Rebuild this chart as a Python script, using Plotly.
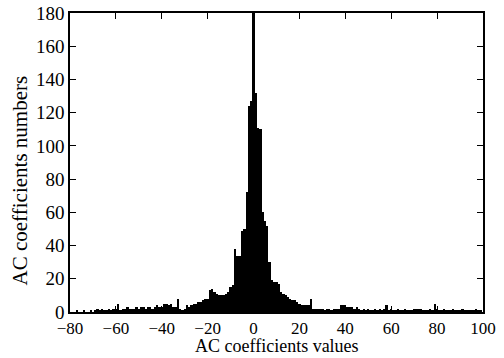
import plotly.graph_objects as go

# Histogram bins (integer AC coefficient values) and their counts
bin_values = list(range(-80, 101))
counts = [
    # -80 .. -69
    0, 0, 0, 1, 0, 0, 1, 0, 0, 1, 0, 1,
    # -68 .. -57
    2, 1, 2, 1, 1, 2, 1, 2, 2, 5, 1, 2,
    # -56 .. -45
    2, 3, 2, 2, 2, 3, 2, 3, 3, 2, 3, 3,
    # -44 .. -33
    2, 3, 4, 3, 3, 5, 5, 4, 5, 3, 3, 8,
    # -32 .. -21
    2, 1, 2, 4, 3, 4, 5, 5, 6, 6, 7, 8,
    # -20 .. -9
    8, 13, 14, 12, 11, 10, 10, 10, 11, 12, 15, 16,
    # -8 .. 3
    38, 34, 34, 49, 50, 72, 124, 127, 185, 132, 111, 110,
    # 4 .. 15
    60, 55, 52, 30, 19, 18, 18, 17, 12, 11, 10, 9,
    # 16 .. 27
    8, 7, 7, 6, 5, 4, 4, 4, 4, 8, 2, 2,
    # 28 .. 39
    2, 2, 2, 1, 2, 2, 1, 2, 2, 2, 4, 4,
    # 40 .. 51
    4, 3, 3, 3, 2, 3, 2, 1, 2, 1, 2, 1,
    # 52 .. 63
    1, 2, 1, 2, 1, 2, 4, 1, 2, 1, 1, 2,
    # 64 .. 75
    1, 1, 2, 1, 1, 1, 2, 2, 2, 2, 1, 1,
    # 76 .. 87
    1, 2, 1, 5, 2, 1, 1, 2, 1, 1, 1, 2,
    # 88 .. 100
    1, 1, 1, 2, 1, 1, 1, 1, 1, 2, 1, 1, 0,
]

x_ticks = [-80, -60, -40, -20, 0, 20, 40, 60, 80, 100]
y_ticks = [0, 20, 40, 60, 80, 100, 120, 140, 160, 180]
x_title = "AC coefficients values"
y_title = "AC coefficients numbers"

FONT = "Liberation Serif"

fig = go.Figure(
    go.Bar(
        x=bin_values,
        y=counts,
        width=1,
        marker=dict(color="black", line=dict(width=0)),
    )
)

fig.update_layout(
    template="none",
    width=504,
    height=358,
    margin=dict(l=70, r=21, t=13, b=46, autoexpand=False),
    paper_bgcolor="white",
    plot_bgcolor="white",
    bargap=0,
    showlegend=False,
    font=dict(family=FONT, size=18, color="black"),
    annotations=[
        dict(text=x_title, xref="paper", yref="paper", x=0.5, y=0,
             yshift=-34, xanchor="center", yanchor="middle", showarrow=False,
             font=dict(family=FONT, size=18, color="black")),
        dict(text=y_title, xref="paper", yref="paper", x=0, y=0.44,
             xshift=-50, xanchor="center", yanchor="middle", showarrow=False,
             textangle=-90, font=dict(family=FONT, size=21, color="black")),
    ],
)

fig.update_xaxes(
    automargin=False,
    range=[-80, 100],
    tickvals=x_ticks,
    ticks="inside",
    ticklen=6,
    tickwidth=1.2,
    tickcolor="black",
    showline=True,
    linecolor="black",
    linewidth=1.5,
    mirror="ticks",
    showgrid=False,
    zeroline=False,
    tickfont=dict(family=FONT, size=17),
)

fig.update_yaxes(
    automargin=False,
    range=[0, 180],
    tickvals=y_ticks,
    ticks="inside",
    ticklen=6,
    tickwidth=1.2,
    tickcolor="black",
    showline=True,
    linecolor="black",
    linewidth=1.5,
    mirror="ticks",
    showgrid=False,
    zeroline=False,
    tickfont=dict(family=FONT, size=19),
)

fig.write_html(
    "out.html",
    config={"displayModeBar": False},
    post_script="document.body.style.margin='0';document.body.style.overflow='hidden';",
)
